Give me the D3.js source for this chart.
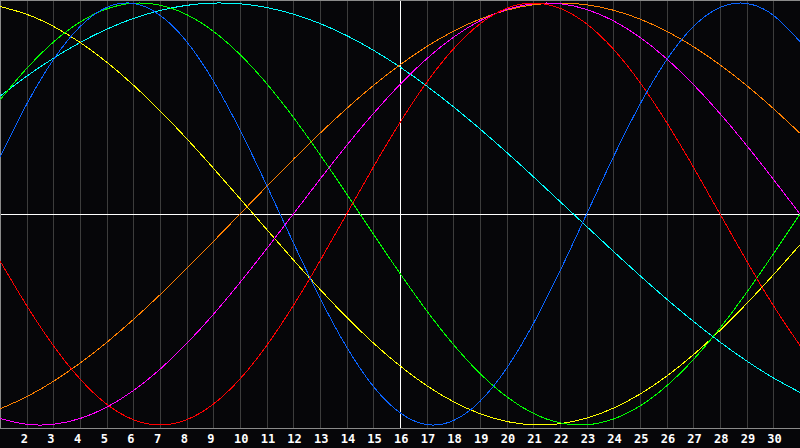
<!DOCTYPE html>
<html lang="en">
<head>
    <meta charset="UTF-8">
    <script src="https://d3js.org/d3.v7.min.js"></script>
    <title>Biorhythm</title>
    <style>
        body { margin: 0; background: #060609; overflow: hidden; }
    </style>
</head>
<body>
<script>
    var width = 800;
    var height = 448;
    var plotBottom = 428;

    // days on the x axis
    var days = d3.range(1, 32);
    var dayLabels = d3.range(2, 31);

    // values per day (-1 .. 1)
    var physical = [0.270, 0.520, 0.731, 0.888, 0.979, 0.998, 0.942, 0.817, 0.631, 0.398, 0.136, -0.136, -0.398, -0.631, -0.817, -0.942, -0.998, -0.979, -0.888, -0.731, -0.520, -0.270, 0.000, 0.270, 0.520, 0.731, 0.888, 0.979, 0.998, 0.942, 0.817];
    var emotional = [-0.2225, -0.4339, -0.6235, -0.7818, -0.9010, -0.9749, -1, -0.9749, -0.9010, -0.7818, -0.6235, -0.4339, -0.2225, 0, 0.2225, 0.4339, 0.6235, 0.7818, 0.9010, 0.9749, 1, 0.9749, 0.9010, 0.7818, 0.6235, 0.4339, 0.2225, 0, -0.2225, -0.4339, -0.6235];
    var intellectual = [0.5406, 0.6901, 0.8146, 0.9096, 0.9718, 0.9989, 0.9898, 0.9450, 0.8660, 0.7557, 0.6182, 0.4582, 0.2817, 0.0951, -0.0951, -0.2817, -0.4582, -0.6182, -0.7557, -0.8660, -0.9450, -0.9898, -0.9989, -0.9718, -0.9096, -0.8146, -0.6901, -0.5406, -0.3717, -0.1893, 0];
    var intuitive = [-0.9694, -0.9966, -0.9966, -0.9694, -0.9158, -0.8372, -0.7357, -0.6142, -0.4759, -0.3247, -0.1646, 0, 0.1646, 0.3247, 0.4759, 0.6142, 0.7357, 0.8372, 0.9158, 0.9694, 0.9966, 0.9966, 0.9694, 0.9158, 0.8372, 0.7357, 0.6142, 0.4759, 0.3247, 0.1646, 0];
    var aesthetic = [0.9834, 0.9465, 0.8893, 0.8133, 0.7199, 0.6112, 0.4894, 0.3572, 0.2174, 0.0730, -0.0730, -0.2174, -0.3572, -0.4894, -0.6112, -0.7199, -0.8133, -0.8893, -0.9465, -0.9834, -0.9993, -0.9940, -0.9675, -0.9204, -0.8536, -0.7687, -0.6673, -0.5518, -0.4244, -0.2883, -0.1456];
    var awareness = [-0.9239, -0.8660, -0.7934, -0.7071, -0.6088, -0.5, -0.3827, -0.2588, -0.1305, 0, 0.1305, 0.2588, 0.3827, 0.5, 0.6088, 0.7071, 0.7934, 0.8660, 0.9239, 0.9659, 0.9914, 1, 0.9914, 0.9659, 0.9239, 0.8660, 0.7934, 0.7071, 0.6088, 0.5, 0.3827];
    var spiritual = [0.5586, 0.6528, 0.7378, 0.8125, 0.8757, 0.9267, 0.9646, 0.9890, 0.9996, 0.9960, 0.9786, 0.9473, 0.9028, 0.8456, 0.7765, 0.6966, 0.6068, 0.5085, 0.4031, 0.2921, 0.1769, 0.0592, -0.0592, -0.1769, -0.2921, -0.4031, -0.5085, -0.6068, -0.6966, -0.7765, -0.8456];

    var seriesNames = ["spiritual", "awareness", "aesthetic", "intuitive", "intellectual", "emotional", "physical"];
    var seriesValues = [spiritual, awareness, aesthetic, intuitive, intellectual, emotional, physical];
    var seriesColors = ["#00ffff", "#ff8000", "#ffff00", "#ff00ff", "#00ff00", "#ff0000", "#0a64ff"];

    var x = d3.scaleLinear()
            .domain([1, 31])
            .range([0, width]);

    var y = d3.scaleLinear()
            .domain([-1, 1])
            .range([425, 3]);

    var svg = d3.select("body")
            .append("svg")
            .attr("width", width)
            .attr("height", height)
            .style("display", "block");

    svg.append("rect")
            .attr("width", width)
            .attr("height", height)
            .attr("fill", "#060609");

    // day grid, the middle day drawn white
    svg.append("g")
            .selectAll("line")
            .data(dayLabels)
            .enter()
            .append("line")
            .attr("x1", function (d) { return Math.round(x(d)) + 0.5; })
            .attr("x2", function (d) { return Math.round(x(d)) + 0.5; })
            .attr("y1", 0)
            .attr("y2", plotBottom)
            .attr("stroke", function (d) { return d == 16 ? "#ffffff" : "#3c3c3c"; })
            .attr("stroke-width", 1)
            .attr("shape-rendering", "crispEdges");

    // zero line
    svg.append("line")
            .attr("x1", 0)
            .attr("x2", width)
            .attr("y1", y(0) + 0.5)
            .attr("y2", y(0) + 0.5)
            .attr("stroke", "#ffffff")
            .attr("stroke-width", 1)
            .attr("shape-rendering", "crispEdges");

    // frame
    svg.append("path")
            .attr("d", "M0.5," + plotBottom + "V0.5H" + width + "M0," + (plotBottom + 0.5) + "H" + width)
            .attr("fill", "none")
            .attr("stroke", "#8a8a8a")
            .attr("stroke-width", 1)
            .attr("shape-rendering", "crispEdges");

    var line = d3.line()
            .x(function (d, i) { return x(days[i]); })
            .y(function (d) { return y(d); })
            .curve(d3.curveNatural);

    svg.append("g")
            .selectAll("path")
            .data(seriesValues)
            .enter()
            .append("path")
            .attr("class", function (d, i) { return "curve " + seriesNames[i]; })
            .attr("d", line)
            .attr("fill", "none")
            .attr("stroke", function (d, i) { return seriesColors[i]; })
            .attr("stroke-width", 1)
            .attr("shape-rendering", "crispEdges");

    // day labels, left aligned just before each grid line
    svg.append("g")
            .selectAll("text")
            .data(dayLabels)
            .enter()
            .append("text")
            .text(function (d) { return d; })
            .attr("x", function (d) { return x(d) - 6; })
            .attr("y", 443)
            .attr("fill", "#ffffff")
            .attr("font-family", "'DejaVu Sans Mono', monospace")
            .attr("font-weight", "bold")
            .attr("font-size", "12px");
</script>
</body>
</html>
